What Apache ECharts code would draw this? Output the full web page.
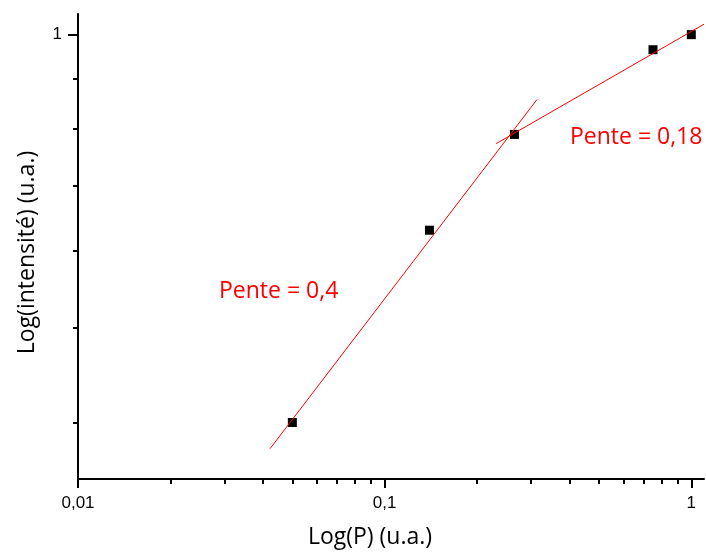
<!DOCTYPE html>
<html><head><meta charset="utf-8">
<script src="https://cdn.jsdelivr.net/npm/echarts@6/dist/echarts.min.js"></script>
<style>html,body{margin:0;padding:0;background:#fff}#c{width:706px;height:554px}</style>
</head><body><div id="c"></div>
<script>
// Data
const pValues = [0.05, 0.14, 0.265, 0.75, 1.0];
const intensityValues = [0.40, 0.63, 0.79, 0.965, 1.0];
const fit1X = [0.0423, 0.314];
const fit1Y = [0.376, 0.858];
const fit2X = [0.231, 1.1];
const fit2Y = [0.773, 1.025];
const xMajorTicks = [0.01, 0.1, 1];
const xMajorLabels = ['0,01', '0,1', '1'];
const xMinorTicks = [0.02, 0.03, 0.04, 0.05, 0.06, 0.07, 0.08, 0.09, 0.2, 0.3, 0.4, 0.5, 0.6, 0.7, 0.8, 0.9];
const yMajorTicks = [1];
const yMajorLabels = ['1'];
const yMinorTicks = [0.4, 0.5, 0.6, 0.7, 0.8, 0.9];
const slopeTexts = ['Pente = 0,4', 'Pente = 0,18'];
const xTitle = 'Log(P) (u.a.)';
const yTitle = 'Log(intensité) (u.a.)';

function labelFor(ticks, labels) {
  return function (v) {
    let best = 0, bd = Infinity;
    ticks.forEach((t, i) => { const d = Math.abs(Math.log10(t) - Math.log10(v)); if (d < bd) { bd = d; best = i; } });
    return '{t|' + labels[best] + '}';
  };
}

const chart = echarts.init(document.getElementById('c'), null, {renderer: 'canvas'});
const titleFont = {color: '#000', fontFamily: 'Open Sans', fontSize: 23};
const tickRich = {t: {fontSize: 17, fontFamily: 'Liberation Sans', color: '#000', lineHeight: 19}};

chart.setOption({
  animation: false,
  backgroundColor: '#fff',
  grid: {left: 78, right: 2, top: 14, bottom: 74, containLabel: false},
  xAxis: [{
    type: 'log', logBase: 10, min: 0.01, max: 1.1, position: 'bottom',
    name: xTitle, nameLocation: 'middle', nameGap: 47,
    nameTextStyle: Object.assign({padding: [0, 42, 0, 0]}, titleFont),
    axisLine: {show: true, lineStyle: {color: '#000', width: 2}},
    axisTick: {show: true, inside: false, length: 9, lineStyle: {color: '#000', width: 2}, customValues: xMajorTicks},
    axisLabel: {show: true, margin: 15, customValues: xMajorTicks, formatter: labelFor(xMajorTicks, xMajorLabels),
      color: '#000', fontFamily: 'Liberation Sans', fontSize: 17, rich: tickRich},
    splitLine: {show: false}, minorTick: {show: false}
  }, {
    type: 'log', logBase: 10, min: 0.01, max: 1.1, position: 'bottom',
    axisLine: {show: false},
    axisTick: {show: true, inside: false, length: 5, lineStyle: {color: '#000', width: 2}, customValues: xMinorTicks},
    axisLabel: {show: false},
    splitLine: {show: false}
  }],
  yAxis: [{
    type: 'log', logBase: 10, min: 0.35, max: 1.05, position: 'left',
    name: yTitle, nameLocation: 'middle', nameGap: 39, nameRotate: 90,
    nameTextStyle: Object.assign({padding: [0, 12, 0, 0]}, titleFont),
    axisLine: {show: true, lineStyle: {color: '#000', width: 2}},
    axisTick: {show: true, inside: false, length: 10, lineStyle: {color: '#000', width: 2}, customValues: yMajorTicks},
    axisLabel: {show: true, margin: 16, customValues: yMajorTicks, formatter: labelFor(yMajorTicks, yMajorLabels),
      color: '#000', fontFamily: 'Liberation Sans', fontSize: 17, rich: tickRich},
    splitLine: {show: false}
  }, {
    type: 'log', logBase: 10, min: 0.35, max: 1.05, position: 'left',
    axisLine: {show: false},
    axisTick: {show: true, inside: false, length: 5, lineStyle: {color: '#000', width: 2}, customValues: yMinorTicks},
    axisLabel: {show: false},
    splitLine: {show: false}
  }],
  series: [{
    type: 'scatter', xAxisIndex: 0, yAxisIndex: 0, z: 2,
    symbol: 'rect', symbolSize: 9, itemStyle: {color: '#000', opacity: 1},
    data: pValues.map((x, i) => [x, intensityValues[i]])
  }, {
    type: 'line', xAxisIndex: 0, yAxisIndex: 0, z: 3, symbol: 'none',
    lineStyle: {color: '#ff0000', width: 1},
    data: fit1X.map((x, i) => [x, fit1Y[i]])
  }, {
    type: 'line', xAxisIndex: 0, yAxisIndex: 0, z: 3, symbol: 'none',
    lineStyle: {color: '#ff0000', width: 1},
    data: fit2X.map((x, i) => [x, fit2Y[i]])
  }],
  graphic: [
    {type: 'text', left: 219, top: 280, style: {text: slopeTexts[0], fill: '#ff0000', font: '23px "Open Sans"'}},
    {type: 'text', left: 570, top: 126, style: {text: slopeTexts[1], fill: '#ff0000', font: '23px "Open Sans"'}}
  ]
});
</script>
</body></html>
